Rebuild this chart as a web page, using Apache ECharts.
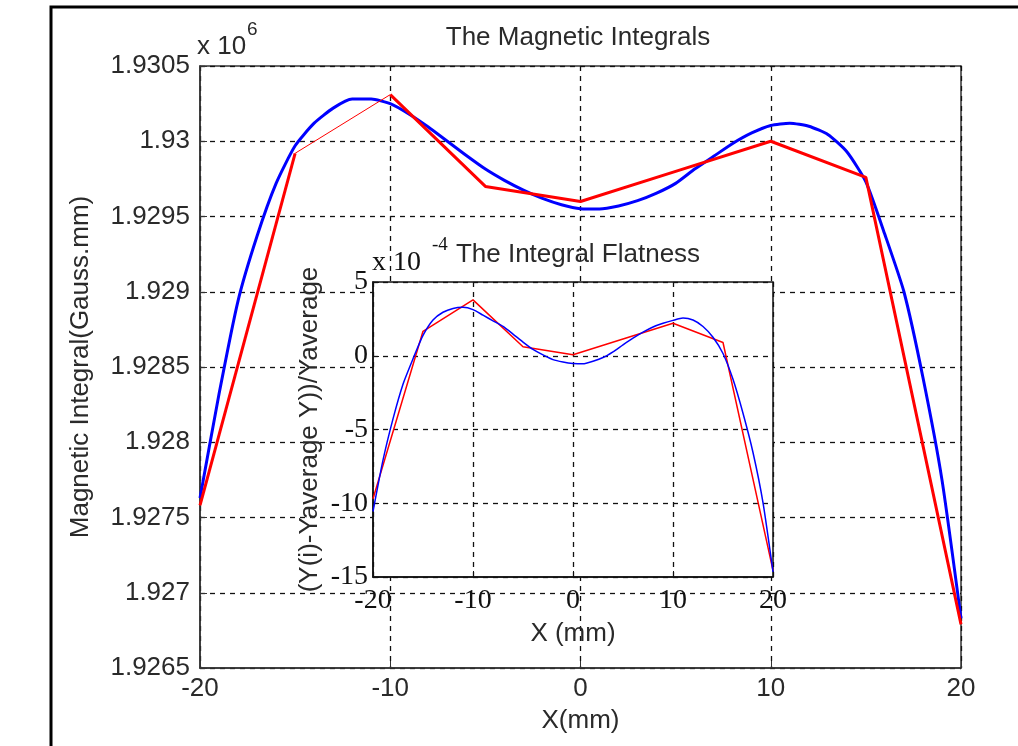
<!DOCTYPE html>
<html><head><meta charset="utf-8">
<script src="https://cdn.jsdelivr.net/npm/echarts@6/dist/echarts.min.js"></script>
<style>html,body{margin:0;padding:0;background:#fff}#c{width:1018px;height:746px}</style>
</head><body><div id="c"></div>
<script>
// ---- data ----
const xRed = [-20, -15, -10, -5, 0, 5, 10, 15, 20];
// Magnetic integral (Gauss.mm), measured points
const redMain = [1927580, 1929920, 1930310, 1929700, 1929600, 1929800, 1930000, 1929760, 1926790];
const xBlue = [-20,-19,-18,-17,-16,-15,-14,-13,-12,-11,-10,-9,-8,-7,-6,-5,-4,-3,-2,-1,0,1,2,3,4,5,6,7,8,9,10,11,12,13,14,15,16,17,18,19,20];
const blueMain = [1927630,1928320,1928940,1929370,1929720,1929970,1930120,1930220,1930280,1930280,
  1930250,1930180,1930095,1930000,1929905,1929815,1929740,1929675,1929620,1929578,
  1929552,1929550,1929570,1929605,1929655,1929720,1929815,1929900,1929985,1930055,
  1930105,1930120,1930100,1930045,1929930,1929730,1929380,1929000,1928430,1927750,1926830];
// Integral flatness (x 1e-4)
const redFlat = [-9.7, 1.66, 3.79, 0.61, 0.07, 1.14, 2.2, 0.9, -14.55];
const blueFlat = [-10.56,-7.08,-4.28,-1.93,-0.21,1.38,2.43,2.95,3.21,3.28,
  3.13,2.75,2.37,1.99,1.47,0.93,0.43,0.06,-0.26,-0.42,
  -0.52,-0.55,-0.37,-0.12,0.27,0.74,1.19,1.6,1.95,2.2,
  2.4,2.56,2.42,1.98,1.25,0.15,-1.6,-3.9,-6.56,-9.96,-14.65];
const mainXRange = [-20, 20, 10];
const mainYRange = [1926500, 1930500, 500];
const flatYRange = [-15, 5, 5];
const mainTitle = 'The Magnetic Integrals';
const flatTitle = 'The Integral Flatness';

const pairs = (xs, ys, a, b) => xs.slice(a, b).map((x, i) => [x, ys[a + i]]);
const SANS = 'Liberation Sans';
const SERIF = 'Liberation Serif';
const TXT = '#2a2a2a';

const chart = echarts.init(document.getElementById('c'), null, {renderer: 'canvas'});
const dashed = {show: true, lineStyle: {color: '#111', type: [5, 5], width: 1.3}};

chart.setOption({
  animation: false,
  backgroundColor: '#fff',
  grid: [
    {left: 200, top: 66, width: 761, height: 602, show: true, backgroundColor: '#fff', borderColor: '#333', borderWidth: 1.5, z: 0},
    {left: 373, top: 282, width: 400, height: 295, show: true, backgroundColor: '#fff', borderColor: '#111', borderWidth: 1.5, z: 5}
  ],
  xAxis: [
    {type: 'value', gridIndex: 0, min: mainXRange[0], max: mainXRange[1], interval: mainXRange[2],
     name: 'X(mm)', nameLocation: 'middle', nameGap: 40,
     nameTextStyle: {fontFamily: SANS, fontSize: 26, color: TXT},
     axisLine: {onZero: false, lineStyle: {color: '#333', width: 1.5}},
     axisTick: {inside: true, length: 7, lineStyle: {color: '#333'}},
     axisLabel: {fontFamily: SANS, fontSize: 26, color: TXT, margin: 8},
     splitLine: dashed},
    {type: 'value', gridIndex: 1, min: mainXRange[0], max: mainXRange[1], interval: mainXRange[2], z: 6,
     name: 'X (mm)', nameLocation: 'middle', nameGap: 44,
     nameTextStyle: {fontFamily: SANS, fontSize: 26, color: TXT},
     axisLine: {onZero: false, lineStyle: {color: '#111', width: 1.5}},
     axisTick: {inside: true, length: 6, lineStyle: {color: '#111'}},
     axisLabel: {fontFamily: SERIF, fontSize: 28, color: '#111', margin: 10},
     splitLine: dashed}
  ],
  yAxis: [
    {type: 'value', gridIndex: 0, min: mainYRange[0], max: mainYRange[1], interval: mainYRange[2],
     name: 'Magnetic Integral(Gauss.mm)', nameLocation: 'middle', nameGap: 106,
     nameTextStyle: {fontFamily: SANS, fontSize: 26, color: TXT},
     axisLine: {onZero: false, lineStyle: {color: '#333', width: 1.5}},
     axisTick: {inside: true, length: 7, lineStyle: {color: '#333'}},
     axisLabel: {fontFamily: SANS, fontSize: 26, color: TXT, margin: 10,
       formatter: v => String(parseFloat((v / 1e6).toFixed(4)))},
     splitLine: dashed},
    {type: 'value', gridIndex: 1, min: flatYRange[0], max: flatYRange[1], interval: flatYRange[2], z: 6,
     name: '(Y(i)-Yaverage Y))/Yaverage', nameLocation: 'middle', nameGap: 50,
     nameTextStyle: {fontFamily: SANS, fontSize: 26, color: TXT},
     axisLine: {onZero: false, lineStyle: {color: '#111', width: 1.5}},
     axisTick: {inside: true, length: 6, lineStyle: {color: '#111'}},
     axisLabel: {fontFamily: SERIF, fontSize: 28, color: '#111', margin: 5},
     splitLine: dashed}
  ],
  series: [
    {type: 'line', xAxisIndex: 0, yAxisIndex: 0, z: 2, symbol: 'none', smooth: 0.2,
     data: pairs(xBlue, blueMain, 0, xBlue.length), lineStyle: {color: '#0000ff', width: 3}},
    {type: 'line', xAxisIndex: 0, yAxisIndex: 0, z: 3, symbol: 'none',
     data: pairs(xRed, redMain, 0, 2), lineStyle: {color: '#ff0000', width: 3}},
    {type: 'line', xAxisIndex: 0, yAxisIndex: 0, z: 3, symbol: 'none',
     data: pairs(xRed, redMain, 1, 3), lineStyle: {color: '#ff0000', width: 1}},
    {type: 'line', xAxisIndex: 0, yAxisIndex: 0, z: 3, symbol: 'none',
     data: pairs(xRed, redMain, 2, xRed.length), lineStyle: {color: '#ff0000', width: 3}},
    {type: 'line', xAxisIndex: 1, yAxisIndex: 1, z: 7, symbol: 'none',
     data: pairs(xRed, redFlat, 0, xRed.length), lineStyle: {color: '#ff0000', width: 1.5}},
    {type: 'line', xAxisIndex: 1, yAxisIndex: 1, z: 8, symbol: 'none', smooth: 0.2,
     data: pairs(xBlue, blueFlat, 0, xBlue.length), lineStyle: {color: '#0000ff', width: 1.5}}
  ],
  graphic: [
    {type: 'polyline', z: 10, shape: {points: [[51, 746], [51, 7], [1018, 7]]}, style: {stroke: '#000', lineWidth: 3, fill: null}},
    {type: 'text', z: 10, x: 578, y: 38, style: {text: mainTitle, font: '26px "Liberation Sans"', fill: TXT, align: 'center', verticalAlign: 'middle'}},
    {type: 'text', z: 10, x: 197, y: 47, style: {text: 'x 10', font: '26px "Liberation Sans"', fill: TXT, align: 'left', verticalAlign: 'middle'}},
    {type: 'text', z: 10, x: 247, y: 30, style: {text: '6', font: '19px "Liberation Sans"', fill: TXT, align: 'left', verticalAlign: 'middle'}},
    {type: 'text', z: 10, x: 578, y: 255, style: {text: flatTitle, font: '26px "Liberation Sans"', fill: TXT, align: 'center', verticalAlign: 'middle'}},
    {type: 'text', z: 10, x: 372, y: 263, style: {text: 'x 10', font: '28px "Liberation Serif"', fill: '#111', align: 'left', verticalAlign: 'middle'}},
    {type: 'text', z: 10, x: 432, y: 245, style: {text: '-4', font: '19px "Liberation Serif"', fill: '#111', align: 'left', verticalAlign: 'middle'}}
  ]
});
</script></body></html>
